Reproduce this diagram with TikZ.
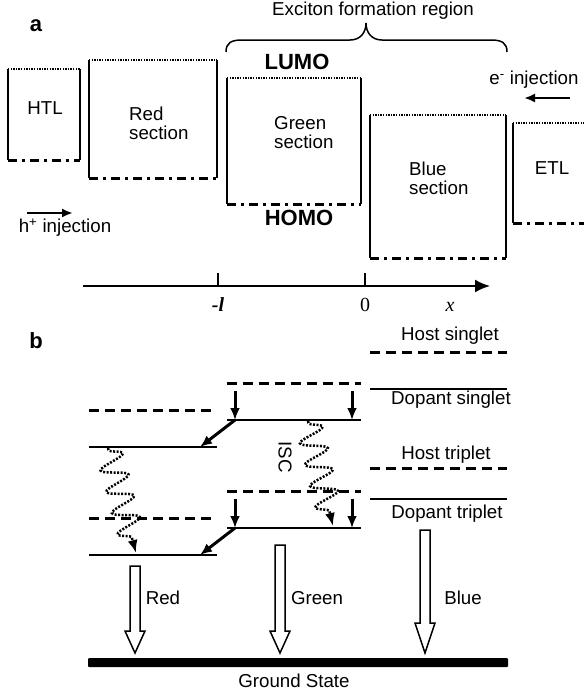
\documentclass[tikz,border=0pt]{standalone}
\usepackage{fontspec}
\setmainfont{Liberation Sans}
\newfontfamily\timesfont{Liberation Serif}
\usetikzlibrary{arrows.meta, decorations.pathmorphing, positioning}

\begin{document}
\begin{tikzpicture}[x=1pt, y=1pt, >={Latex[length=11pt,width=9pt]},
    txt/.style={font=\fontsize{18.7}{19}\selectfont, inner sep=0pt, align=left},
    big/.style={font=\fontsize{22}{24}\selectfont\bfseries, inner sep=0pt},
    axlbl/.style={font=\fontsize{20}{22}\selectfont\timesfont, inner sep=0pt},
    lumo/.style={line width=2pt, dash pattern=on 1.3pt off 1.3pt},
    homo/.style={line width=3pt, dash pattern=on 9pt off 5pt on 3pt off 5pt},
    wall/.style={line width=1.5pt},
    hostlvl/.style={line width=3pt, dash pattern=on 10pt off 6pt},
    doplvl/.style={line width=1.5pt},
    relax/.style={line width=3pt, -{Latex[length=12pt,width=10pt]}},
    wavy/.style={line width=2.5pt, dash pattern=on 2pt off 1.5pt, decorate,
        decoration={snake, amplitude=13pt, segment length=22pt, pre length=2pt, post length=12pt},
        -{Latex[length=13pt,width=10pt]}},
    emit/.style={line width=1.5pt, fill=white}]
    \useasboundingbox (0,0) rectangle (584,-694);

    % 1. Cac lop cua linh kien (phan a)
    \foreach \l/\r/\t/\b in {8/80/69/160, 89/217/60/178, 227/361/78/204, 370/506/115/258} {
        \draw[lumo] (\l,-\t) -- (\r,-\t);
        \draw[homo] (\l,-\b) -- (\r,-\b);
        \draw[wall] (\l,-\t) -- (\l,-\b) (\r,-\t) -- (\r,-\b);
    }
    \draw[lumo] (513,-123) -- (584,-123);
    \draw[homo] (513,-223) -- (584,-223);
    \draw[wall] (513,-123) -- (513,-223);

    \node[big] (la) at (36,-26) {a};
    \node[txt] (htl) at (45,-108.5) {HTL};
    \node[txt, anchor=west] (red) at (129,-123) {Red\\section};
    \node[txt, anchor=west] (green) at (274,-133) {Green\\section};
    \node[txt, anchor=west] (blue) at (409,-178) {Blue\\section};
    \node[txt] (etl) at (552,-168) {ETL};
    \node[big] (lumo) at (297,-62) {LUMO};
    \node[big] (homo) at (299,-218) {HOMO};

    % 2. Vung tao exciton
    \node[txt] (exciton) at (373,-11) {Exciton formation region};
    \draw[wall] (226,-52) .. controls (226,-43) and (231,-40) .. (242,-40)
        -- (350,-40) .. controls (360,-40) and (366,-33) .. (366,-23)
        .. controls (366,-33) and (372,-40) .. (382,-40)
        -- (491,-40) .. controls (502,-40) and (507,-43) .. (507,-52);

    % 3. Phun hat tai
    \node[txt] (hinj) at (65,-228) {h\textsuperscript{+} injection};
    \coordinate (h0) at (27,-213);
    \coordinate (h1) at (73,-213);
    \draw[line width=2.2pt, ->] (h0) -- (h1);
    \node[txt] (einj) at (534,-80) {e\textsuperscript{-} injection};
    \coordinate (e0) at (570,-98);
    \coordinate (e1) at (524,-98);
    \draw[line width=2.2pt, ->] (e0) -- (e1);

    % 4. Truc x
    \coordinate (ax0) at (83,-286);
    \coordinate (ax1) at (490,-286);
    \draw[line width=2pt, -{Latex[length=15pt,width=13pt]}] (ax0) -- (ax1);
    \foreach \x in {218,365} {
        \draw[line width=2pt] (\x,-286) -- (\x,-273);
    }
    \node[axlbl, font=\fontsize{20}{22}\selectfont\timesfont\bfseries\itshape] (ml) at (218,-305) {-l};
    \node[axlbl] (zero) at (365,-305) {0};
    \node[axlbl, font=\fontsize{20}{22}\selectfont\timesfont\itshape] (xl) at (450,-307) {x};

    % 5. Cac muc nang luong (phan b)
    \node[big] (lb) at (36,-341) {b};
    \foreach \c/\l/\r/\hs/\ds/\ht/\dt in {R/89/217/410/447/518/555,
            G/227/361/383/420/491/528, B/370/507/352/389/468/499} {
        \draw[hostlvl] (\l,-\hs) -- (\r,-\hs);
        \draw[doplvl] (\l,-\ds) -- (\r,-\ds);
        \draw[hostlvl] (\l,-\ht) -- (\r,-\ht);
        \draw[doplvl] (\l,-\dt) -- (\r,-\dt);
    }
    \node[txt] (hsing) at (450,-336) {Host singlet};
    \node[txt] (dsing) at (451,-400) {Dopant singlet};
    \node[txt] (htrip) at (446,-455) {Host triplet};
    \node[txt] (dtrip) at (447,-514) {Dopant triplet};

    % 6. Truyen nang luong
    \coordinate (gs1) at (235,-420);
    \coordinate (gs2) at (352,-420);
    \coordinate (gt1) at (235,-528);
    \coordinate (gt2) at (352,-528);
    \coordinate (rs1) at (200,-447);
    \coordinate (rt1) at (200,-555);
    \foreach \p in {gs1,gs2,gt1,gt2} {
        \draw[relax] ([yshift=29pt]\p) -- (\p);
    }
    \draw[relax] (gs1) -- (rs1);
    \draw[relax] (gt1) -- (rt1);

    \coordinate (rw0) at (108,-448);
    \coordinate (rw1) at (136,-553);
    \coordinate (gw0) at (308,-421);
    \coordinate (gw1) at (333,-526);
    \draw[wavy] (rw0) -- (rw1);
    \draw[wavy] (gw0) -- (gw1);
    \node[txt, rotate=-90] (isc) at (285,-457) {ISC};

    % 7. Phat xa ve trang thai co ban
    \foreach \n/\x/\yt/\yh/\lx in {Red/135/566/631/163, Green/280/545/631/317, Blue/425/530/623/463} {
        \draw[emit] (\x-5,-\yt) -- (\x+5,-\yt) -- (\x+5,-\yh) -- (\x+10,-\yh)
            -- (\x,-653) -- (\x-10,-\yh) -- (\x-5,-\yh) -- cycle;
        \node[txt] (em\n) at (\lx,-598) {\n};
    }
    \node[fill, minimum width=420pt, minimum height=9pt, inner sep=0pt, rounded corners=1pt] (ground) at (298,-662.5) {};
    \node[txt] (gstate) at (294,-681) {Ground State};
\end{tikzpicture}
\end{document}
